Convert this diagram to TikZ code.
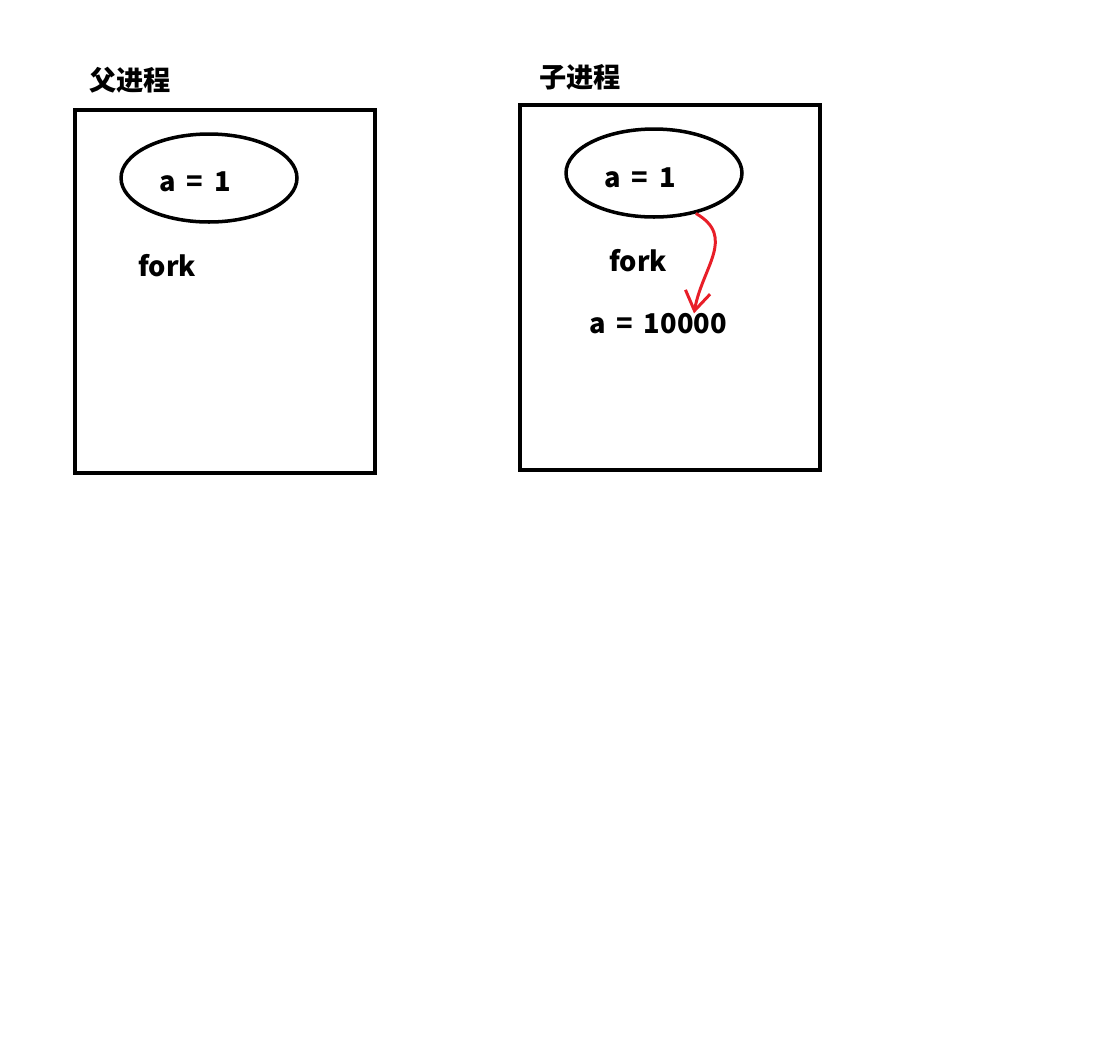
\documentclass[tikz,border=0pt]{standalone}
\usepackage{fontspec}
\setmainfont{Noto Sans CJK SC}
\usetikzlibrary{shapes.geometric,arrows.meta}

\definecolor{penred}{RGB}{232,30,40}

\tikzset{
  procbox/.style={draw, line width=2.3pt},
  varcirc/.style={draw, ellipse, line width=2pt, minimum width=3.52cm, minimum height=1.76cm, inner sep=0pt},
  lbl/.style={font=\fontsize{15.5}{18}\selectfont\bfseries, inner sep=0pt},
  copyarrow/.style={draw=penred, line width=1.7pt, -{Straight Barb[length=0.38cm,width=0.5cm]}}
}

\begin{document}
\begin{tikzpicture}[x=0.02cm, y=-0.02cm]
		\useasboundingbox (0,0) rectangle (1106,1036);

		% Draw the parent process box
		\draw[procbox] (75,110) rectangle (375,473);
		\node[lbl] (ptitle) at (130,80) {父进程};
		\node[varcirc] (pvar) at (209,178) {};
		\node[lbl] (pval) at (195,182) {a\hspace{0.4em}=\hspace{0.4em}1};
		\node[lbl] (pfork) at (167,266) {fork};

		% Draw the child process box
		\draw[procbox] (520,105) rectangle (820,470);
		\node[lbl] (ctitle) at (580,77) {子进程};
		\node[varcirc] (cvar) at (654,173) {};
		\node[lbl] (cval) at (640,178) {a\hspace{0.4em}=\hspace{0.4em}1};
		\node[lbl] (cfork) at (638,261) {fork};
		\node[lbl] (cnew) at (658,324) {a\hspace{0.4em}=\hspace{0.4em}10000};

		% Draw the red arrow for the write
		\draw[copyarrow] (cvar.-44) to[out=-30, in=80, looseness=1.2] ([xshift=0.72cm]cnew.north);

	\end{tikzpicture}
\end{document}
